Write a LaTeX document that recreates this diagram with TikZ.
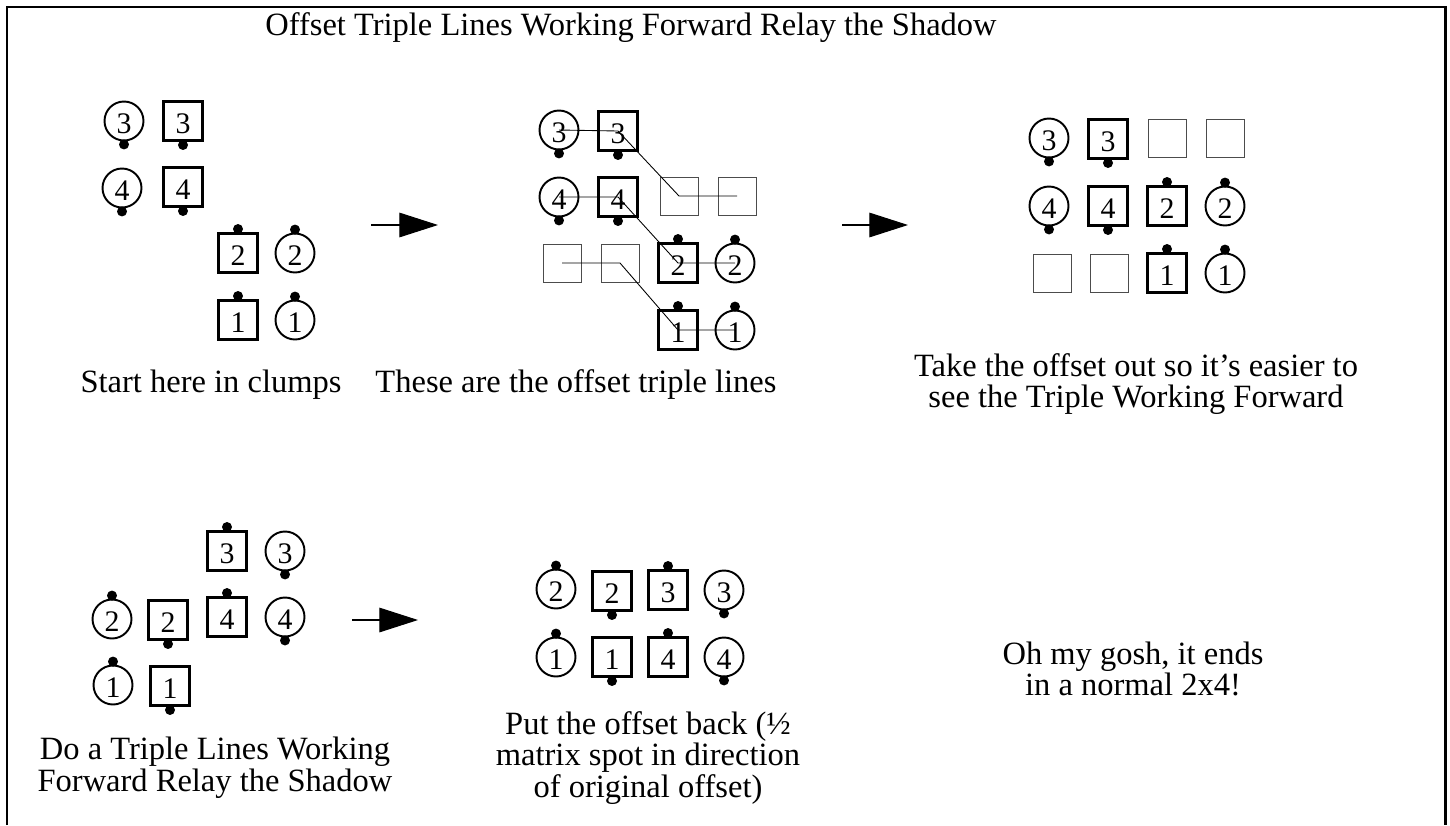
\documentclass[tikz,border=0pt]{standalone}
\usepackage{fontspec}
\setmainfont{Liberation Serif}
\usetikzlibrary{arrows.meta,positioning}

\tikzset{
    dancer/.style={circle, draw, line width=1.1pt, minimum size=0.78cm, inner sep=0pt, text height=14.5pt, text depth=0pt, font=\fontsize{17}{17}\selectfont},
    guy/.style={rectangle, draw, line width=1.7pt, minimum size=0.78cm, inner sep=0pt, text height=14.5pt, text depth=0pt, font=\fontsize{17}{17}\selectfont},
    spot/.style={rectangle, draw=black!70, line width=0.5pt, minimum size=0.76cm, inner sep=0pt},
    caption/.style={align=center, font=\fontsize{18.5}{18.1}\selectfont},
    relay/.style={line width=0.5pt},
    onward/.style={-{Triangle[length=22pt,width=14pt]}, line width=0.6pt}
}
\newcommand{\nubdown}[1]{\fill ([yshift=-1.7pt]#1.south) circle (0.1cm);}
\newcommand{\nubup}[1]{\fill ([yshift=1.7pt]#1.north) circle (0.1cm);}

\begin{document}
\begin{tikzpicture}[x=0.02cm, y=-0.02cm]
    \useasboundingbox (0,0) rectangle (1450,825);
    \draw[line width=1.7pt] (7,825) -- (7,7) -- (1445,7) -- (1445,825);

    \node[caption] (title) at (631,28) {Offset Triple Lines Working Forward Relay the Shadow};

    % clumps
    \node[dancer] (c3a) at (124,121) {3};
    \node[guy] (s3a) at (183,121) {3};
    \node[dancer] (c4a) at (122,188) {4};
    \node[guy] (s4a) at (183,187) {4};
    \node[guy] (s2a) at (238,253) {2};
    \node[dancer] (c2a) at (295,253) {2};
    \node[guy] (s1a) at (238,320) {1};
    \node[dancer] (c1a) at (295,320) {1};
    \foreach \n in {c3a,s3a,c4a,s4a} {\nubdown{\n}}
    \foreach \n in {s2a,c2a,s1a,c1a} {\nubup{\n}}
    \node[caption] (capa) at (211,385) {Start here in clumps};

    % offset triple lines
    \node[dancer] (c3b) at (559,130) {3};
    \node[guy] (s3b) at (618,131) {3};
    \node[spot] (g1b) at (679,196) {};
    \node[spot] (g2b) at (737,196) {};
    \node[dancer] (c4b) at (559,197) {4};
    \node[guy] (s4b) at (618,197) {4};
    \node[spot] (g3b) at (562,263) {};
    \node[spot] (g4b) at (620,263) {};
    \node[guy] (s2b) at (678,263) {2};
    \node[dancer] (c2b) at (735,263) {2};
    \node[guy] (s1b) at (678,330) {1};
    \node[dancer] (c1b) at (735,330) {1};
    \foreach \n in {c3b,s3b,c4b,s4b} {\nubdown{\n}}
    \foreach \n in {s2b,c2b,s1b,c1b} {\nubup{\n}}
    \draw[relay] (c3b.center) -- (s3b.center) -- (g1b.center) -- (g2b.center);
    \draw[relay] (c4b.center) -- (s4b.center) -- (s2b.center) -- (c2b.center);
    \draw[relay] (g3b.center) -- (g4b.center) -- (s1b.center) -- (c1b.center);
    \node[caption] (capb) at (576,385) {These are the offset triple lines};

    % offset taken out
    \node[dancer] (c3c) at (1049,138) {3};
    \node[guy] (s3c) at (1108,139) {3};
    \node[spot] (g1c) at (1167,138) {};
    \node[spot] (g2c) at (1225,138) {};
    \node[dancer] (c4c) at (1049,206) {4};
    \node[guy] (s4c) at (1108,206) {4};
    \node[guy] (s2c) at (1167,206) {2};
    \node[dancer] (c2c) at (1225,206) {2};
    \node[spot] (g3c) at (1052,273) {};
    \node[spot] (g4c) at (1109,273) {};
    \node[guy] (s1c) at (1167,273) {1};
    \node[dancer] (c1c) at (1225,273) {1};
    \foreach \n in {c3c,s3c,c4c,s4c} {\nubdown{\n}}
    \foreach \n in {s2c,c2c,s1c,c1c} {\nubup{\n}}
    \node[caption] (capc) at (1136,384) {Take the offset out so it's easier to\\see the Triple Working Forward};

    % after the relay
    \node[guy] (s3d) at (227,551) {3};
    \node[dancer] (c3d) at (285,551) {3};
    \node[dancer] (c2d) at (112,619) {2};
    \node[guy] (s2d) at (168,620) {2};
    \node[guy] (s4d) at (227,617) {4};
    \node[dancer] (c4d) at (285,617) {4};
    \node[dancer] (c1d) at (113,685) {1};
    \node[guy] (s1d) at (170,686) {1};
    \foreach \n in {s3d,c2d,s4d,c1d} {\nubup{\n}}
    \foreach \n in {c3d,s2d,c4d,s1d} {\nubdown{\n}}
    \node[caption] (capd) at (215,768) {Do a Triple Lines Working\\Forward Relay the Shadow};

    % offset back
    \node[dancer] (c2e) at (556,589) {2};
    \node[guy] (s2e) at (612,591) {2};
    \node[guy] (s3e) at (668,590) {3};
    \node[dancer] (c3e) at (724,590) {3};
    \node[dancer] (c1e) at (556,657) {1};
    \node[guy] (s1e) at (612,657) {1};
    \node[guy] (s4e) at (668,657) {4};
    \node[dancer] (c4e) at (724,657) {4};
    \foreach \n in {c2e,s3e,c1e,s4e} {\nubup{\n}}
    \foreach \n in {s2e,c3e,s1e,c4e} {\nubdown{\n}}
    \node[caption] (cape) at (648,758) {Put the offset back (½\\matrix spot in direction\\of original offset)};

    \node[caption] (capf) at (1133,669) {Oh my gosh, it ends\\in a normal 2x4!};

    \coordinate (a1s) at (371,225);
    \coordinate (a1e) at (438,225);
    \coordinate (a2s) at (842,225);
    \coordinate (a2e) at (908,225);
    \coordinate (a3s) at (352,620);
    \coordinate (a3e) at (418,620);
    \draw[onward] (a1s) -- (a1e);
    \draw[onward] (a2s) -- (a2e);
    \draw[onward] (a3s) -- (a3e);
\end{tikzpicture}
\end{document}
